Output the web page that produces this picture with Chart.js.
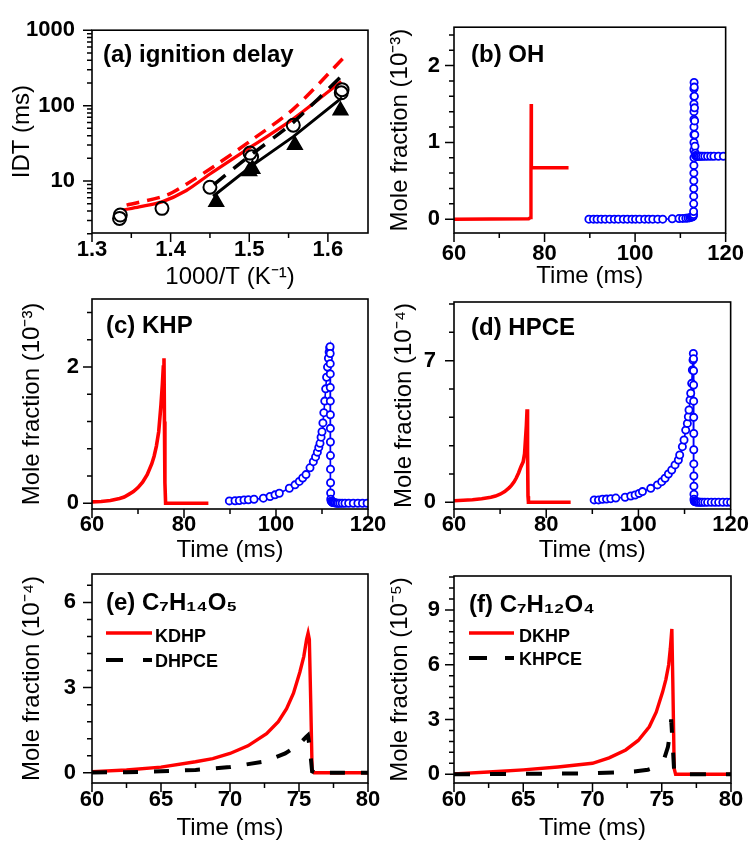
<!DOCTYPE html>
<html>
<head>
<meta charset="utf-8">
<script src="https://cdn.jsdelivr.net/npm/chart.js@4.4.1/dist/chart.umd.min.js"></script>
<style>
html, body { margin:0; padding:0; background:#ffffff; }
#fig { position:relative; width:752px; height:843px; overflow:hidden; background:#fff; }
#fig canvas { position:absolute; }
</style>
</head>
<body>
<div id="fig">
<canvas id="pa"></canvas><canvas id="pb"></canvas>
<canvas id="pc"></canvas><canvas id="pd"></canvas>
<canvas id="pe"></canvas><canvas id="pf"></canvas>
</div>
<script>
const FONT = "'Liberation Sans', Arial, Helvetica, sans-serif";

// ---------- (a) ignition delay ----------
const aXTicks = [1.3, 1.4, 1.5, 1.6];
const aXMinor = [1.35, 1.45, 1.55];
const aYTicks = [10, 100, 1000];
const aYMinor = [2,3,4,5,6,7,8,9,20,30,40,50,60,70,80,90,200,300,400,500,600,700,800,900];
const aCircX = [1.335, 1.336, 1.389, 1.450, 1.501, 1.503, 1.556, 1.617, 1.618];
const aCircY = [3.2, 3.55, 4.35, 8.3, 23.5, 21.0, 55, 148, 163];
const aTriX = [1.458, 1.500, 1.504, 1.558, 1.616];
const aTriY = [5.3, 13.5, 14.5, 30, 86];
const aBlkSolidX = [1.454, 1.503, 1.556, 1.618];
const aBlkSolidY = [6.3, 15.9, 38.8, 128];
const aBlkDashX = [1.455, 1.492, 1.556, 1.618];
const aBlkDashY = [9.0, 18.4, 60, 250];
const aRedSolidX = [1.340, 1.360, 1.389, 1.420, 1.450, 1.503, 1.556, 1.617];
const aRedSolidY = [4.15, 4.55, 5.3, 7.5, 12.4, 28.8, 66.8, 209];
const aRedDashX = [1.344, 1.395, 1.420, 1.456, 1.503, 1.556, 1.621];
const aRedDashY = [4.8, 6.5, 9.1, 15.9, 35, 90, 442];

// ---------- time axes ----------
const tXTicks = [60, 80, 100, 120];
const tXMinor = [70, 90, 110];
const sXTicks = [60, 65, 70, 75, 80];
const sXMinor = [62.5, 67.5, 72.5, 77.5];

// ---------- (b) OH ----------
const bYTicks = [0, 1, 2];
const bYMinor = [0.2, 0.4, 0.6, 0.8, 1.2, 1.4, 1.6, 1.8, 2.2, 2.4];
const bRedX = [60, 76.5, 76.9, 77.0, 77.05, 77.1, 78, 85.3];
const bRedY = [0, 0.005, 0.02, 0.6, 1.5, 0.67, 0.67, 0.67];
const bBlueX = [89.8, 90.8, 91.6, 92.5, 93.4, 94.4, 95.4, 96.3, 97.4, 98.3,
  99.3, 100.1, 101.0, 102.1, 103.0, 103.9, 105.0, 106.1, 108.2, 109.7,
  110.5, 111.2, 111.7, 112.1, 112.4, 112.6, 112.75, 112.85,
  112.9, 112.92, 112.94, 112.95, 112.96, 112.97, 112.98, 112.99, 113.0, 113.0, 113.0, 113.0, 113.0, 113.0, 113.0, 113.0, 113.0, 113.0,
  113.03, 113.06, 113.09, 113.12, 113.15, 113.18, 113.22, 113.27,
  113.35, 113.5, 113.7, 113.9, 114.2, 114.5, 114.9, 115.4, 116.0, 116.7, 117.4, 118.4, 119.5];
const bBlueY = [0, 0, 0, 0, 0, 0, 0, 0, 0, 0,
  0, 0, 0, 0, 0, 0, 0, 0, 0.005, 0.008,
  0.01, 0.012, 0.015, 0.02, 0.025, 0.03, 0.035, 0.04,
  0.06, 0.1, 0.2, 0.3, 0.4, 0.5, 0.6, 0.7, 0.8, 0.9, 1.0, 1.1, 1.2, 1.3, 1.4, 1.5, 1.6, 1.7,
  1.78, 1.72, 1.6, 1.45, 1.28, 1.1, 0.95, 0.86,
  0.83, 0.82, 0.82, 0.82, 0.82, 0.82, 0.82, 0.82, 0.82, 0.82, 0.82, 0.82, 0.82];

// ---------- (c) KHP ----------
const cYTicks = [0, 2];
const cYMinor = [0.4, 0.8, 1.2, 1.6, 2.4, 2.8];
const cRedX = [60, 62, 64, 66, 67, 68, 69, 70, 71, 72, 73, 73.5, 74, 74.5, 75, 75.3, 75.5, 75.65, 75.75, 75.85, 76.0, 78, 80, 85.3];
const cRedY = [0.02, 0.025, 0.04, 0.07, 0.09, 0.13, 0.17, 0.23, 0.31, 0.42, 0.58, 0.69, 0.84, 1.05, 1.45, 1.75, 2.0, 2.13, 1.2, 0.3, 0.0, 0, 0, 0];
const cBlueX = [89.86, 91.09, 92.03, 93.04, 93.99, 95.22, 97.25, 98.7, 99.78, 100.72, 102.9, 104.13, 105.07, 105.8, 106.52, 107.39, 108.12, 108.6, 108.99, 109.3, 109.57, 109.8, 110.0, 110.2, 110.4, 110.6, 110.8, 111.0, 111.2, 111.4, 111.55, 111.68, 111.75,
  111.78, 111.79, 111.8, 111.8, 111.81, 111.82, 111.82, 111.83, 111.84, 111.85, 111.86, 111.88, 111.9,
  112.0, 112.15, 112.3, 112.5, 112.7, 112.9, 113.2, 113.5, 113.9, 114.4, 115.0, 115.8, 116.8, 117.8, 118.8, 119.8];
const cBlueY = [0.034, 0.036, 0.039, 0.049, 0.05, 0.059, 0.074, 0.098, 0.123, 0.147, 0.22, 0.27, 0.32, 0.37, 0.42, 0.52, 0.61, 0.68, 0.75, 0.82, 0.88, 0.97, 1.05, 1.18, 1.33, 1.5, 1.68, 1.85, 2.0, 2.13, 2.22, 2.28, 2.3,
  2.2, 2.05, 1.9, 1.7, 1.5, 1.3, 1.1, 0.9, 0.7, 0.5, 0.3, 0.15, 0.06,
  0.03, 0.02, 0.01, 0.01, 0.005, 0.005, 0, 0, 0, 0, 0, 0, 0, 0, 0, 0];

// ---------- (d) HPCE ----------
const dYTicks = [0, 7];
const dYMinor = [1.4, 2.8, 4.2, 5.6, 8.4, 9.8];
const dRedX = [60, 62, 64, 66, 68, 69, 70, 71, 72, 72.5, 73, 73.5, 74, 74.5, 75, 75.3, 75.5, 75.7, 75.85, 75.95, 76.05, 76.15, 78, 80, 85.3];
const dRedY = [0.08, 0.1, 0.13, 0.18, 0.25, 0.31, 0.4, 0.53, 0.72, 0.85, 1.0, 1.2, 1.45, 1.75, 2.0, 2.4, 3.1, 3.8, 4.6, 2.5, 0.3, 0.0, 0, 0, 0];
const dBlueX = [90.4, 91.34, 92.2, 93.07, 94.0, 95.09, 97.11, 98.34, 99.28, 100.14, 100.87, 102.67, 104.12, 105.05, 105.78, 106.5, 107.22, 107.94, 108.66, 108.95, 109.53, 109.89, 110.25, 110.61, 110.83, 110.97, 111.19, 111.34, 111.55, 111.7, 111.84, 111.91,
  111.95, 111.96, 111.97, 111.98, 111.99, 112.0, 112.0, 112.01, 112.02, 112.03, 112.04, 112.05,
  112.1, 112.2, 112.35, 112.5, 112.7, 112.9, 113.2, 113.5, 113.9, 114.4, 115.0, 115.8, 116.6, 117.4, 118.3, 119.2, 120.0];
const dBlueY = [0.12, 0.12, 0.15, 0.16, 0.18, 0.21, 0.25, 0.31, 0.36, 0.44, 0.53, 0.69, 0.86, 1.02, 1.19, 1.4, 1.6, 1.85, 2.09, 2.34, 2.75, 3.08, 3.57, 3.9, 4.23, 4.56, 5.06, 5.39, 5.88, 6.54, 7.03, 7.36,
  7.1, 6.5, 5.8, 5.0, 4.2, 3.4, 2.6, 1.9, 1.3, 0.8, 0.4, 0.15,
  0.06, 0.04, 0.03, 0.02, 0.01, 0.01, 0, 0, 0, 0, 0, 0, 0, 0, 0, 0, 0];

// ---------- (e) C7H14O5 ----------
const eYTicks = [0, 3, 6];
const eYMinor = [0.6, 1.2, 1.8, 2.4, 3.6, 4.2, 4.8, 5.4, 6.6];
const eRedX = [60, 62.5, 65, 67.5, 68.75, 70, 71.3, 72.65, 73.5, 74.1, 74.6, 75.06, 75.35, 75.55, 75.66, 75.75, 75.85, 75.95, 76.1, 78, 80];
const eRedY = [0.04, 0.1, 0.2, 0.39, 0.5, 0.68, 0.95, 1.38, 1.8, 2.26, 2.8, 3.54, 4.1, 4.7, 4.92, 4.7, 2.5, 0.1, 0.0, 0, 0];
const eBlkX = [60, 62.5, 65, 67.5, 70, 72.5, 74, 75, 75.5, 75.65, 75.8, 75.95, 76.2, 78, 80];
const eBlkY = [0.01, 0.02, 0.05, 0.1, 0.2, 0.4, 0.68, 1.0, 1.25, 1.32, 0.8, 0.05, 0, 0, 0];

// ---------- (f) C7H12O4 ----------
const fYTicks = [0, 3, 6, 9];
const fYMinor = [0.6, 1.2, 1.8, 2.4, 3.6, 4.2, 4.8, 5.4, 6.6, 7.2, 7.8, 8.4, 9.6, 10.2, 10.8];
const fRedX = [60, 62.5, 65, 67.5, 70, 71.2, 72.4, 73.3, 74.1, 74.6, 75.06, 75.3, 75.5, 75.62, 75.73, 75.8, 75.9, 76.0, 78, 80];
const fRedY = [0.02, 0.12, 0.24, 0.4, 0.6, 0.9, 1.33, 1.85, 2.6, 3.4, 4.5, 5.2, 6.0, 6.9, 7.96, 5.0, 0.3, 0, 0, 0];
const fBlkX = [60, 65, 70, 73, 74, 74.8, 75.2, 75.45, 75.6, 75.68, 75.8, 75.9, 76.1, 78, 80];
const fBlkY = [0, 0.02, 0.05, 0.15, 0.25, 0.45, 0.9, 1.5, 2.3, 3.0, 1.5, 0.1, 0, 0, 0];

// ---------- helpers ----------
const pts = (xs, ys) => xs.map((x, i) => ({x: x, y: ys[i]}));
const lineDs = (label, xs, ys, color, width, dash, tension) => ({
  label, data: pts(xs, ys), showLine: true, borderColor: color, borderWidth: width,
  borderDash: dash || [], pointRadius: 0, pointHoverRadius: 0, fill: false, tension: tension || 0
});
const markDs = (label, xs, ys, style, r, fillC) => ({
  label, data: pts(xs, ys), showLine: false, pointStyle: style, pointRadius: r, pointHoverRadius: r,
  pointBorderColor: '#000', pointBackgroundColor: fillC, pointBorderWidth: 2
});
const blueDs = (label, xs, ys) => ({
  label, data: pts(xs, ys), showLine: true, borderColor: '#0000ff', borderWidth: 1.6,
  pointRadius: 3.6, pointHoverRadius: 3.6, pointBorderWidth: 1.8, pointBorderColor: '#0000ff',
  pointBackgroundColor: '#ffffff', fill: false
});

const framePlugin = {
  id: 'frame',
  afterDraw(chart, args, o) {
    const {ctx, chartArea: a, scales} = chart;
    ctx.save();
    ctx.strokeStyle = '#000';
    ctx.lineWidth = 1.6;
    ctx.strokeRect(a.left, a.top, a.right - a.left, a.bottom - a.top);
    ctx.lineWidth = 1.5;
    ctx.beginPath();
    const tick = (scale, vals, len) => (vals || []).forEach(v => {
      const p = scale.getPixelForValue(v);
      if (scale.isHorizontal()) { ctx.moveTo(p, a.bottom); ctx.lineTo(p, a.bottom + len); }
      else { ctx.moveTo(a.left, p); ctx.lineTo(a.left - len, p); }
    });
    tick(scales.x, o.xMajor, 9); tick(scales.x, o.xMinor, 5);
    tick(scales.y, o.yMajor, 9); tick(scales.y, o.yMinor, 5);
    ctx.stroke();
    ctx.restore();
  }
};

const labelPlugin = {
  id: 'panelLabel',
  afterDraw(chart, args, o) {
    const ctx = chart.ctx;
    ctx.save();
    ctx.fillStyle = '#000';
    ctx.textBaseline = 'alphabetic';
    ctx.textAlign = 'left';
    ctx.font = 'bold ' + o.size + 'px ' + FONT;
    ctx.fillText(o.text, o.x - o.ox, o.y - o.oy);
    (o.legend || []).forEach(it => {
      const ds = chart.data.datasets[it.index];
      ctx.save();
      ctx.strokeStyle = ds.borderColor;
      ctx.lineWidth = ds.borderWidth;
      ctx.setLineDash(it.dash || ds.borderDash || []);
      ctx.beginPath();
      ctx.moveTo(it.x1 - o.ox, it.ly - o.oy);
      ctx.lineTo(it.x2 - o.ox, it.ly - o.oy);
      ctx.stroke();
      ctx.restore();
      ctx.font = 'bold ' + it.size + 'px ' + FONT;
      ctx.fillText(ds.label, it.tx - o.ox, it.ty - o.oy);
    });
    ctx.restore();
  }
};

function makePanel(id, L, D) {
  const cv = document.getElementById(id);
  cv.width = L.w; cv.height = L.h;
  cv.style.left = L.x + 'px'; cv.style.top = L.y + 'px';
  cv.style.width = L.w + 'px'; cv.style.height = L.h + 'px';
  const yW = L.pl - L.x, xH = L.y + L.h - L.pb;
  const tickFont = {family: FONT, size: 22, weight: 'bold'};
  const titleFont = {family: FONT, size: 24};
  return new Chart(cv, {
    type: 'scatter',
    data: {datasets: D.datasets},
    options: {
      responsive: false, maintainAspectRatio: false, animation: false, devicePixelRatio: 1,
      events: [],
      layout: {padding: {left: 0, right: L.x + L.w - L.pr, top: L.pt - L.y, bottom: 0}},
      plugins: {
        legend: {display: false}, tooltip: {enabled: false},
        frame: {xMajor: D.xTicks, xMinor: D.xMinor, yMajor: D.yTicks, yMinor: D.yMinor},
        panelLabel: Object.assign({}, D.label, {ox: L.x, oy: L.y})
      },
      scales: {
        x: {
          type: 'linear', min: D.xMin, max: D.xMax,
          afterFit: s => { s.height = xH; },
          afterBuildTicks: s => { s.ticks = D.xTicks.map(v => ({value: v})); },
          grid: {display: false, drawTicks: false}, border: {display: false},
          ticks: {color: '#000', font: tickFont, padding: L.xPad, autoSkip: false, maxRotation: 0, minRotation: 0, callback: D.xFmt},
          title: {display: true, text: D.xTitle, color: '#000', font: titleFont, padding: {top: 0, bottom: L.xtPad}}
        },
        y: {
          type: D.yType || 'linear', min: D.yMin, max: D.yMax,
          afterFit: s => { s.width = yW; },
          afterBuildTicks: s => { s.ticks = D.yTicks.map(v => ({value: v})); },
          grid: {display: false, drawTicks: false}, border: {display: false},
          ticks: {color: '#000', font: tickFont, padding: L.yPad, autoSkip: false, callback: D.yFmt},
          title: {display: true, text: D.yTitle, color: '#000', font: titleFont, padding: {top: L.ytPad, bottom: 0}}
        }
      }
    },
    plugins: [framePlugin, labelPlugin]
  });
}

const fmt0 = v => String(v);
const fmt1 = v => Number(v).toFixed(1);
const RED = '#ff0000';

makePanel('pa', {x: 0, y: 0, w: 400, h: 295, pl: 92, pr: 368, pt: 25, pb: 233, xPad: 4, yPad: 17, xtPad: 3, ytPad: 8}, {
  xMin: 1.3, xMax: 1.651, yType: 'logarithmic', yMin: 2.05, yMax: 1000,
  xTicks: aXTicks, xMinor: aXMinor, yTicks: aYTicks, yMinor: aYMinor, xFmt: fmt1, yFmt: fmt0,
  xTitle: '1000/T (K\u207B\u00B9)', yTitle: 'IDT (ms)',
  label: {text: '(a) ignition delay', x: 103, y: 62, size: 24},
  datasets: [
    markDs('Experiment (open circles)', aCircX, aCircY, 'circle', 6.5, 'rgba(255,255,255,0)'),
    markDs('Experiment (filled triangles)', aTriX, aTriY, 'triangle', 8, '#000'),
    lineDs('Model (black solid)', aBlkSolidX, aBlkSolidY, '#000', 3, [], 0),
    lineDs('Model (black dashed)', aBlkDashX, aBlkDashY, '#000', 3.5, [15, 10], 0.2),
    lineDs('Model (red solid)', aRedSolidX, aRedSolidY, RED, 3.2, [], 0.3),
    lineDs('Model (red dashed)', aRedDashX, aRedDashY, RED, 3.5, [13, 8], 0.3)
  ]
});

makePanel('pb', {x: 376, y: 0, w: 376, h: 295, pl: 454, pr: 731, pt: 24, pb: 233, xPad: 8, yPad: 14, xtPad: 4, ytPad: 10}, {
  xMin: 60, xMax: 120, yMin: -0.18, yMax: 2.5,
  xTicks: tXTicks, xMinor: tXMinor, yTicks: bYTicks, yMinor: bYMinor, xFmt: fmt0, yFmt: fmt0,
  xTitle: 'Time (ms)', yTitle: 'Mole fraction (10\u207B\u00B3)',
  label: {text: '(b) OH', x: 471, y: 62, size: 24},
  datasets: [
    blueDs('OH (circles)', bBlueX, bBlueY),
    lineDs('OH (red line)', bRedX, bRedY, RED, 3.4, [], 0)
  ]
});

makePanel('pc', {x: 0, y: 265, w: 400, h: 300, pl: 92, pr: 368, pt: 299, pb: 509, xPad: 3, yPad: 13, xtPad: 0, ytPad: 18}, {
  xMin: 60, xMax: 120, yMin: -0.085, yMax: 3.0,
  xTicks: tXTicks, xMinor: tXMinor, yTicks: cYTicks, yMinor: cYMinor, xFmt: fmt0, yFmt: fmt0,
  xTitle: 'Time (ms)', yTitle: 'Mole fraction (10\u207B\u00B3)',
  label: {text: '(c) KHP', x: 106, y: 333, size: 24},
  datasets: [
    blueDs('KHP (circles)', cBlueX, cBlueY),
    lineDs('KHP (red line)', cRedX, cRedY, RED, 3.6, [], 0)
  ]
});

makePanel('pd', {x: 376, y: 265, w: 376, h: 300, pl: 454, pr: 731, pt: 302, pb: 509, xPad: 3, yPad: 18, xtPad: 0, ytPad: 14}, {
  xMin: 60, xMax: 120, yMin: -0.33, yMax: 9.9,
  xTicks: tXTicks, xMinor: tXMinor, yTicks: dYTicks, yMinor: dYMinor, xFmt: fmt0, yFmt: fmt0,
  xTitle: 'Time (ms)', yTitle: 'Mole fraction (10\u207B\u2074)',
  label: {text: '(d) HPCE', x: 471, y: 335, size: 24},
  datasets: [
    blueDs('HPCE (circles)', dBlueX, dBlueY),
    lineDs('HPCE (red line)', dRedX, dRedY, RED, 3.6, [], 0)
  ]
});

makePanel('pe', {x: 0, y: 540, w: 400, h: 303, pl: 92, pr: 368, pt: 574, pb: 783, xPad: 4, yPad: 16, xtPad: 0, ytPad: 18}, {
  xMin: 60, xMax: 80, yMin: -0.36, yMax: 7.0,
  xTicks: sXTicks, xMinor: sXMinor, yTicks: eYTicks, yMinor: eYMinor, xFmt: fmt0, yFmt: fmt0,
  xTitle: 'Time (ms)', yTitle: 'Mole fraction (10\u207B\u2074)',
  label: {text: '(e) C\u2087H\u2081\u2084O\u2085', x: 106, y: 610, size: 24,
    legend: [
      {index: 1, x1: 106, x2: 152, ly: 633, tx: 155, ty: 642, size: 18},
      {index: 0, x1: 106, x2: 152, ly: 660, tx: 155, ty: 667, size: 18, dash: [17, 20]}
    ]},
  datasets: [
    lineDs('DHPCE', eBlkX, eBlkY, '#000', 4, [15, 16], 0),
    lineDs('KDHP', eRedX, eRedY, RED, 3.4, [], 0)
  ]
});

makePanel('pf', {x: 376, y: 540, w: 376, h: 303, pl: 454, pr: 731, pt: 576, pb: 783, xPad: 4, yPad: 14, xtPad: 0, ytPad: 10}, {
  xMin: 60, xMax: 80, yMin: -0.48, yMax: 10.86,
  xTicks: sXTicks, xMinor: sXMinor, yTicks: fYTicks, yMinor: fYMinor, xFmt: fmt0, yFmt: fmt0,
  xTitle: 'Time (ms)', yTitle: 'Mole fraction (10\u207B\u2075)',
  label: {text: '(f) C\u2087H\u2081\u2082O\u2084', x: 469, y: 612, size: 24,
    legend: [
      {index: 1, x1: 469, x2: 514, ly: 633, tx: 519, ty: 642, size: 18},
      {index: 0, x1: 469, x2: 514, ly: 658, tx: 519, ty: 665, size: 18, dash: [18, 18]}
    ]},
  datasets: [
    lineDs('KHPCE', fBlkX, fBlkY, '#000', 4, [16, 20], 0),
    lineDs('DKHP', fRedX, fRedY, RED, 3.4, [], 0)
  ]
});
</script>
</body>
</html>
